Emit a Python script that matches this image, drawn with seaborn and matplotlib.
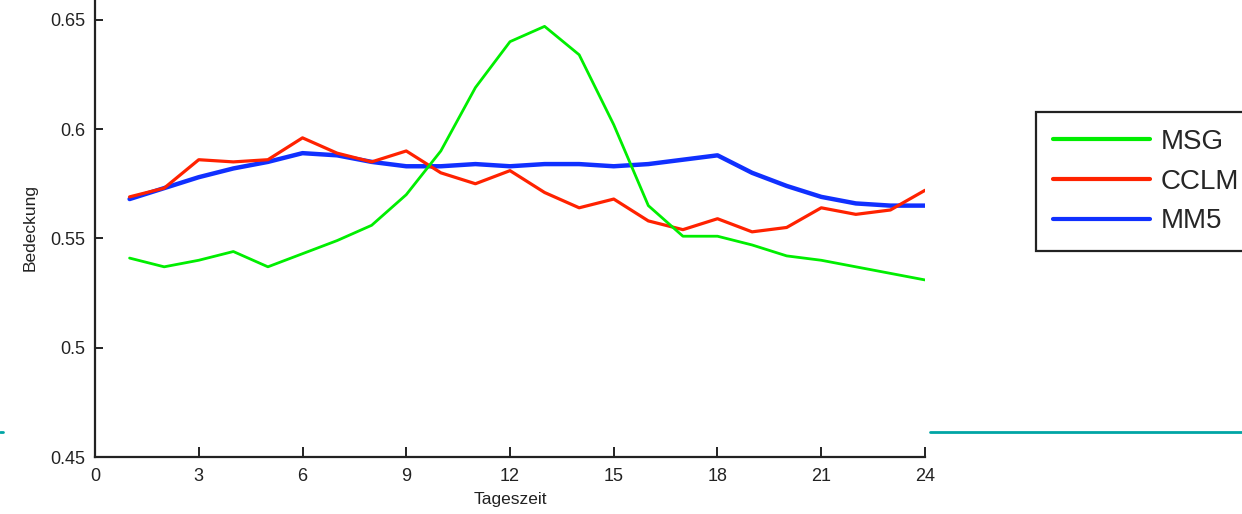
import numpy as np
import pandas as pd
import matplotlib
matplotlib.use("Agg")
import matplotlib.pyplot as plt
import seaborn as sns
from matplotlib.lines import Line2D

hours = list(range(1, 25))
msg = [0.541, 0.537, 0.540, 0.544, 0.537, 0.543, 0.549, 0.556, 0.570, 0.590,
       0.619, 0.640, 0.647, 0.634, 0.602, 0.565, 0.551, 0.551, 0.547, 0.542,
       0.540, 0.537, 0.534, 0.531]
cclm = [0.569, 0.573, 0.586, 0.585, 0.586, 0.596, 0.589, 0.585, 0.590, 0.580,
        0.575, 0.581, 0.571, 0.564, 0.568, 0.558, 0.554, 0.559, 0.553, 0.555,
        0.564, 0.561, 0.563, 0.572]
mm5 = [0.568, 0.573, 0.578, 0.582, 0.585, 0.589, 0.588, 0.585, 0.583, 0.583,
       0.584, 0.583, 0.584, 0.584, 0.583, 0.584, 0.586, 0.588, 0.580, 0.574,
       0.569, 0.566, 0.565, 0.565]
series_names = ["MSG", "CCLM", "MM5"]
xticks = list(range(0, 25, 3))
yticks = [0.45, 0.5, 0.55, 0.6, 0.65]
ytick_labels = ["0.45", "0.5", "0.55", "0.6", "0.65"]

sns.set_style("white")
plt.rcParams['font.family'] = ['Liberation Sans', 'DejaVu Sans']

W, H = 1242, 514
fig = plt.figure(figsize=(W / 100, H / 100), dpi=100)
ax = fig.add_axes([95 / W, (H - 457) / H, (925 - 95) / W, 1.004 - (H - 457) / H])

df = pd.DataFrame({"Tageszeit": hours, "MSG": msg, "CCLM": cclm, "MM5": mm5})
colors = {"MSG": "#00EE00", "CCLM": "#FF2200", "MM5": "#1030FF"}
widths = {"MSG": 2.0, "CCLM": 2.3, "MM5": 3.2}
zorders = {"MSG": 4, "CCLM": 3, "MM5": 2}
for name in series_names:
    sns.lineplot(data=df, x="Tageszeit", y=name, ax=ax, color=colors[name],
                 linewidth=widths[name], label=name, zorder=zorders[name],
                 legend=False)

ax.set_xlim(0, 24)
ax.set_ylim(0.45, 0.66)
ax.set_xticks(xticks)
ax.set_yticks(yticks)
ax.set_yticklabels(ytick_labels)
ax.tick_params(axis="both", direction="in", labelsize=13, colors="#222222",
               width=1.4, labelcolor="#222222", bottom=True, left=True)
ax.tick_params(axis="x", length=7, pad=8)
ax.tick_params(axis="y", length=6, pad=7)
for s in ["top", "right"]:
    ax.spines[s].set_visible(False)
for s in ["left", "bottom"]:
    ax.spines[s].set_color("#222222")
    ax.spines[s].set_linewidth(1.6)
ax.set_xlabel("Tageszeit", fontsize=12.5, color="#222222", labelpad=5)
ax.set_ylabel("Bedeckung", fontsize=12.5, color="#222222", labelpad=9)

handles = [Line2D([0], [0], color=colors[n], linewidth=3.0) for n in series_names]
leg = fig.legend(handles, series_names, loc="upper left",
                 bbox_to_anchor=(1036 / W, (H - 112) / H),
                 fontsize=20, frameon=True, fancybox=False, shadow=False,
                 handlelength=3.5, handletextpad=0.4, labelspacing=0.5,
                 borderpad=0.6, borderaxespad=0)
leg.get_frame().set_edgecolor("#222222")
leg.get_frame().set_linewidth(1.6)
leg.get_frame().set_alpha(1)

# teal slide rule
fig.add_artist(Line2D([0, 3 / W], [(H - 432) / H] * 2, color="#00A5A5", linewidth=2,
                      transform=fig.transFigure))
fig.add_artist(Line2D([930 / W, 1.0], [(H - 432) / H] * 2, color="#00A5A5", linewidth=2,
                      transform=fig.transFigure))

fig.savefig("out.png", dpi=100)
